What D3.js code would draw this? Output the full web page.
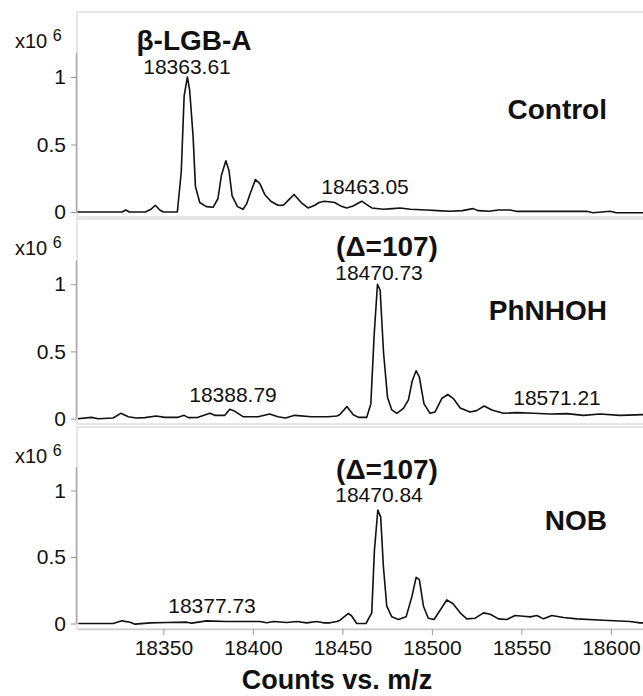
<!DOCTYPE html>
<html>
<head>
<meta charset="utf-8">
<script src="https://cdn.jsdelivr.net/npm/d3@7"></script>
<style>
  body { margin: 0; background: #fff; }
  text { font-family: "Liberation Sans", Arial, sans-serif; fill: #111; }
</style>
</head>
<body>
<script>
// spectra (m/z, counts in x10^6)
let mzControl = [18302, 18327, 18329, 18331, 18340, 18343, 18345.5, 18348, 18350, 18357.8, 18360, 18361.6, 18363.4, 18364.7, 18366.6, 18367.9, 18370.3, 18374, 18377.8, 18380.5, 18382.4, 18384.9, 18386.6, 18388.4, 18391.4, 18394.5, 18396.5, 18398.3, 18401.4, 18403.9, 18406.6, 18410, 18414, 18417, 18420, 18423, 18427, 18430.8, 18434.6, 18437, 18440, 18445.7, 18449, 18452.4, 18456, 18460.8, 18463, 18466.4, 18473, 18478, 18482.2, 18488, 18497, 18503, 18510, 18517, 18523, 18526, 18532, 18537, 18543.7, 18547, 18560, 18575, 18586.5, 18590, 18599.6, 18603, 18618];
let intControl = [0, 0, 0.015, 0, 0, 0.02, 0.05, 0.015, 0, 0, 0.3, 0.86, 1.0, 0.9, 0.56, 0.19, 0.07, 0.04, 0.035, 0.1, 0.27, 0.38, 0.31, 0.12, 0.04, 0.02, 0.06, 0.13, 0.24, 0.21, 0.13, 0.08, 0.05, 0.05, 0.09, 0.13, 0.07, 0.03, 0.05, 0.07, 0.08, 0.07, 0.045, 0.03, 0.045, 0.08, 0.06, 0.03, 0.02, 0.025, 0.03, 0.02, 0.015, 0.01, 0.005, 0.01, 0.025, 0.01, 0.005, 0.015, 0.015, 0.005, 0.005, 0.005, 0.005, -0.005, 0.005, -0.005, -0.005];

let mzPhNHOH = [18302.3, 18309.8, 18313.5, 18321.9, 18326.2, 18330.4, 18334.9, 18339.6, 18346.1, 18350.8, 18358.2, 18361.6, 18364, 18369.4, 18375.9, 18378.7, 18384.3, 18387.1, 18390, 18394.5, 18402.9, 18409.4, 18414, 18418.2, 18423.4, 18432.7, 18442, 18446.9, 18448.5, 18452.5, 18456.1, 18459, 18463.6, 18465.9, 18467.7, 18469.6, 18471.1, 18473, 18475.2, 18477.6, 18480.4, 18484.1, 18486.9, 18489, 18491.2, 18493, 18495.6, 18499, 18501.8, 18505.5, 18508.9, 18512, 18515.8, 18521.3, 18525, 18529.2, 18533.5, 18540, 18547.5, 18556.7, 18566, 18575.4, 18584.6, 18594, 18605, 18618];
let intPhNHOH = [0, 0.01, 0, 0.005, 0.04, 0.015, 0.005, 0.008, 0.02, 0.01, 0.01, 0.025, 0.008, 0.01, 0.04, 0.025, 0.025, 0.07, 0.055, 0.015, 0.015, 0.035, 0.015, 0.005, 0.025, 0.015, 0.015, 0.02, 0.03, 0.09, 0.03, 0.01, 0.01, 0.11, 0.61, 1.0, 0.955, 0.49, 0.16, 0.065, 0.04, 0.077, 0.14, 0.28, 0.356, 0.31, 0.11, 0.04, 0.05, 0.15, 0.18, 0.15, 0.08, 0.05, 0.06, 0.094, 0.065, 0.04, 0.045, 0.04, 0.035, 0.038, 0.025, 0.035, 0.025, 0.03];

let mzNOB = [18302.5, 18322, 18326.8, 18331.4, 18334.2, 18342.6, 18351.8, 18363, 18365.8, 18374.2, 18377.9, 18385.4, 18404, 18407.7, 18411.5, 18418.9, 18424.5, 18430.1, 18435.7, 18439.4, 18443.1, 18446.9, 18448.7, 18453.2, 18455, 18458, 18463.2, 18466.4, 18467.9, 18469.8, 18471.4, 18472.9, 18474.8, 18477.6, 18481.3, 18485.6, 18488.8, 18491.2, 18493, 18495.3, 18498, 18501.2, 18504.6, 18508.3, 18511.7, 18515.8, 18519.5, 18524.2, 18528.8, 18532.6, 18537.2, 18541.9, 18546.5, 18551.2, 18555, 18558.6, 18562.4, 18567, 18573.6, 18581, 18595.8, 18610.7, 18616.3, 18618];
let intNOB = [0, 0, 0.02, 0.01, -0.005, 0.005, 0.007, 0.01, 0.003, 0.02, 0.018, 0.015, 0.015, 0.005, 0.015, 0.008, 0.015, 0.005, 0.015, 0.005, 0.005, 0.015, 0.025, 0.075, 0.06, 0, 0, 0.08, 0.55, 0.853, 0.8, 0.43, 0.13, 0.05, 0.03, 0.05, 0.2, 0.347, 0.33, 0.13, 0.04, 0.03, 0.1, 0.177, 0.15, 0.08, 0.035, 0.04, 0.08, 0.07, 0.035, 0.03, 0.06, 0.055, 0.05, 0.06, 0.035, 0.06, 0.045, 0.035, 0.025, 0.015, 0.005, 0.005];

// panel names and peak labels
let panelNames = ["Control", "PhNHOH", "NOB"];
let headLabels = ["\u03b2-LGB-A", "(\u0394=107)", "(\u0394=107)"];
let peakLabels = [
  [{mz: 18363.61, t: "18363.61"}, {mz: 18463.05, t: "18463.05"}],
  [{mz: 18470.73, t: "18470.73"}, {mz: 18388.79, t: "18388.79"}, {mz: 18571.21, t: "18571.21"}],
  [{mz: 18470.84, t: "18470.84"}, {mz: 18377.73, t: "18377.73"}]
];
let yTicks = [0, 0.5, 1];
let xTicks = [18350, 18400, 18450, 18500, 18550, 18600];

let series = [
  mzControl.map((m, i) => [m, intControl[i]]),
  mzPhNHOH.map((m, i) => [m, intPhNHOH[i]]),
  mzNOB.map((m, i) => [m, intNOB[i]])
];

// layout of the three stacked panels
let panelTop = [12, 219, 427];
let zeroY = [212, 418.7, 623.5];
let unitPx = [135, 134.5, 133];
// where labels sit (x centre / baseline)
let headPos = [[194, 50], [387, 256], [387, 479]];
let namePos = [119, 320, 530];
let peakPos = [
  [[187, 74], [365, 194]],
  [[379, 280], [233, 402], [557, 405]],
  [[379, 502], [212, 613]]
];

let svg = d3.select("body")
  .append("svg")
  .attr("width", 643)
  .attr("height", 696);

let x = d3.scaleLinear()
  .domain([18302.3, 18302.3 + 565 / 1.79])
  .range([78, 643]);

svg.append("defs").append("clipPath")
  .attr("id", "plotclip")
  .append("rect")
  .attr("x", 77).attr("y", 0).attr("width", 570).attr("height", 696);

series.forEach(function (d, p) {
  let top = panelTop[p];
  let y = d3.scaleLinear()
    .domain([0, 1.18])
    .range([zeroY[p], zeroY[p] - 1.18 * unitPx[p]]);

  // light frame around the panel
  svg.append("rect")
    .attr("x", 77)
    .attr("y", top)
    .attr("width", 620)
    .attr("height", p == 2 ? 202 : 205)
    .attr("fill", "none")
    .attr("stroke", "#e6e6e6")
    .attr("stroke-width", 2);

  // y axis
  let ya = svg.append("g")
    .attr("transform", "translate(76,0)")
    .call(d3.axisLeft(y).tickValues(yTicks).tickFormat(d3.format("")).tickSize(5).tickSizeOuter(0).tickPadding(5));
  ya.select(".domain").attr("stroke", "#aaa").attr("stroke-width", 1.5);
  ya.selectAll(".tick line").attr("stroke", "#999");
  ya.selectAll(".tick text")
    .style("font-size", "21px")
    .attr("fill", "#111");

  // x10^6 multiplier
  let mult = svg.append("text")
    .attr("x", 15)
    .attr("y", top + 36)
    .style("font-size", "20px");
  mult.append("tspan").text("x10 ");
  mult.append("tspan").attr("dy", -7).style("font-size", "16px").text("6");

  // spectrum trace
  svg.append("path")
    .datum(d)
    .attr("clip-path", "url(#plotclip)")
    .attr("fill", "none")
    .attr("stroke", "#111")
    .attr("stroke-width", 1.6)
    .attr("stroke-linejoin", "round")
    .attr("d", d3.line().x(v => x(v[0])).y(v => y(v[1])));

  // bold header above main peak
  svg.append("text")
    .attr("x", headPos[p][0])
    .attr("y", headPos[p][1])
    .attr("text-anchor", "middle")
    .style("font-size", "28px")
    .style("font-weight", "bold")
    .text(headLabels[p]);

  // sample name
  svg.append("text")
    .attr("x", 607)
    .attr("y", namePos[p])
    .attr("text-anchor", "end")
    .style("font-size", "28px")
    .style("font-weight", "bold")
    .text(panelNames[p]);

  // m/z peak labels
  svg.selectAll(null)
    .data(peakLabels[p])
    .enter()
    .append("text")
    .attr("x", (v, i) => peakPos[p][i][0])
    .attr("y", (v, i) => peakPos[p][i][1])
    .attr("text-anchor", "middle")
    .style("font-size", "21px")
    .text(v => v.t);
});

// shared m/z axis under the last panel
let xa = svg.append("g")
  .attr("transform", "translate(0,629)")
  .call(d3.axisBottom(x).tickValues(xTicks).tickFormat(d3.format("")).tickSize(6).tickSizeOuter(0).tickPadding(5));
xa.select(".domain").attr("stroke", "#ccc").attr("stroke-width", 1.5);
xa.selectAll(".tick line").attr("stroke", "#999");
xa.selectAll(".tick text")
  .style("font-size", "21px")
  .attr("fill", "#111");

svg.append("text")
  .attr("x", 337)
  .attr("y", 689)
  .attr("text-anchor", "middle")
  .style("font-size", "27px")
  .style("font-weight", "bold")
  .text("Counts vs. m/z");
</script>
</body>
</html>
